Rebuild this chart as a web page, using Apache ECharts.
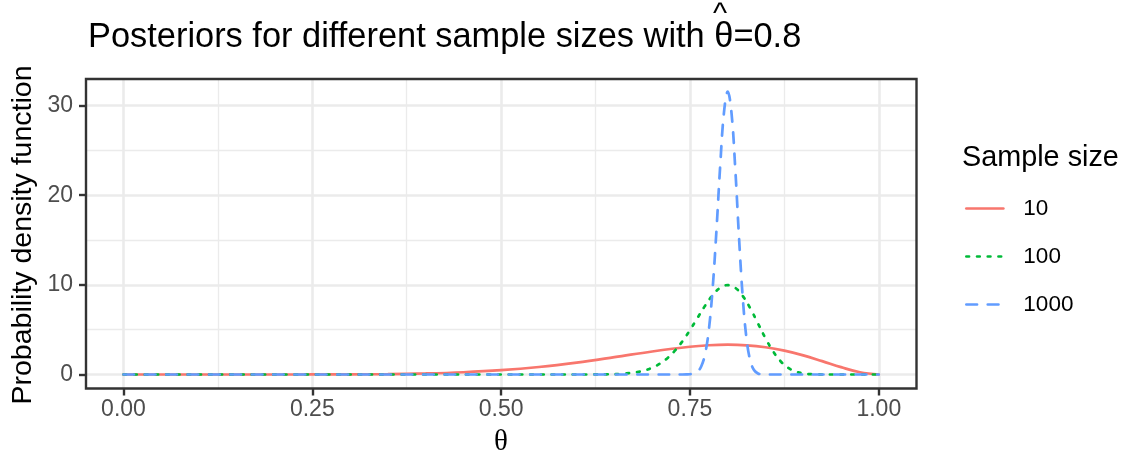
<!DOCTYPE html>
<html>
<head>
<meta charset="utf-8">
<script src="https://cdn.jsdelivr.net/npm/echarts@6/dist/echarts.min.js"></script>
<style>
  html, body { margin: 0; padding: 0; background: #fff; }
  #container { width: 1123px; height: 454px; }
</style>
</head>
<body>
<div id="container"></div>
<script>
// tick labels
var xTicks = [0, 0.25, 0.5, 0.75, 1];
var yTicks = [0, 10, 20, 30];
var sampleSizes = ['10', '100', '1000'];

// posterior densities
var theta10 = [0, 0.05, 0.1, 0.15, 0.2, 0.25, 0.3, 0.35, 0.4, 0.45, 0.5, 0.55, 0.6, 0.65, 0.7, 0.75, 0.775, 0.8, 0.825, 0.85, 0.875, 0.9, 0.925, 0.95, 0.975, 1];
var dens10 = [0, 0, 0, 0, 0.001, 0.004, 0.016, 0.047, 0.117, 0.252, 0.483, 0.839, 1.33, 1.932, 2.568, 3.097, 3.26, 3.322, 3.254, 3.035, 2.657, 2.131, 1.49, 0.821, 0.253, 0];

var theta100 = [0, 0.55, 0.6, 0.62, 0.64, 0.66, 0.68, 0.69, 0.7, 0.71, 0.72, 0.73, 0.74, 0.75, 0.76, 0.77, 0.78, 0.79, 0.8, 0.81, 0.82, 0.83, 0.84, 0.85, 0.86, 0.87, 0.88, 0.89, 0.9, 0.91, 0.92, 0.93, 0.95, 1];
var dens100 = [0, 0, 0.001, 0.005, 0.023, 0.084, 0.272, 0.464, 0.761, 1.2, 1.822, 2.655, 3.705, 4.95, 6.313, 7.67, 8.85, 9.67, 9.97, 9.66, 8.74, 7.35, 5.7, 4.04, 2.59, 1.48, 0.747, 0.323, 0.118, 0.035, 0.008, 0.001, 0, 0];

var theta1000 = [0, 0.7, 0.74, 0.745, 0.75, 0.755, 0.76, 0.765, 0.77, 0.775, 0.78, 0.785, 0.79, 0.795, 0.8, 0.805, 0.81, 0.815, 0.82, 0.825, 0.83, 0.835, 0.84, 0.845, 0.85, 0.86, 1];
var dens1000 = [0, 0, 0.002, 0.007, 0.029, 0.103, 0.327, 0.92, 2.28, 5.0, 9.58, 16.0, 23.25, 29.2, 31.54, 29.14, 22.9, 15.18, 8.44, 3.91, 1.49, 0.465, 0.117, 0.024, 0.004, 0, 0];

function pairs(xs, ys) {
    return xs.map(function (x, i) { return [x, ys[i]]; });
}

var FONT = '"Liberation Sans", Arial, sans-serif';
var GRID_COL = '#EBEBEB';
var DARK = '#333333';

var chart = echarts.init(document.getElementById('container'), null, {renderer: 'canvas'});

chart.setOption({
    animation: false,
    backgroundColor: '#ffffff',
    grid: [
        // horizontal grid lines + y ticks (spans the whole panel width)
        {left: 86, right: 206.5, top: 105.5, bottom: 79.5},
        // vertical grid lines + x ticks (spans the whole panel height)
        {left: 123.5, right: 244.2, top: 79, bottom: 65.5},
        // data area, 0..1 by 0..30
        {left: 123.5, right: 244.2, top: 105.5, bottom: 79.5}
    ],
    xAxis: [
        {gridIndex: 0, type: 'value', min: 0, max: 1, show: false},
        {
            gridIndex: 1, type: 'value', min: xTicks[0], max: xTicks[xTicks.length - 1], interval: 0.25,
            axisLine: {show: false},
            axisTick: {show: true, length: 7, lineStyle: {color: DARK, width: 2.4}},
            axisLabel: {
                margin: 10, color: '#4D4D4D', fontSize: 23, fontFamily: FONT,
                formatter: function (v) { return v.toFixed(2); }
            },
            splitLine: {show: true, lineStyle: {color: GRID_COL, width: 2.6}},
            minorTick: {show: false, splitNumber: 2},
            minorSplitLine: {show: true, lineStyle: {color: GRID_COL, width: 1.3}}
        },
        {gridIndex: 2, type: 'value', min: 0, max: 1, show: false}
    ],
    yAxis: [
        {
            gridIndex: 0, type: 'value', min: yTicks[0], max: yTicks[yTicks.length - 1], interval: 10,
            axisLine: {show: false},
            axisTick: {show: true, length: 7, lineStyle: {color: DARK, width: 2.4}},
            axisLabel: {margin: 13, color: '#4D4D4D', fontSize: 23, fontFamily: FONT},
            splitLine: {show: true, lineStyle: {color: GRID_COL, width: 2.6}},
            minorTick: {show: false, splitNumber: 2},
            minorSplitLine: {show: true, lineStyle: {color: GRID_COL, width: 1.3}}
        },
        {gridIndex: 1, type: 'value', min: 0, max: 1, show: false},
        {gridIndex: 2, type: 'value', min: 0, max: 30, show: false}
    ],
    legend: {
        orient: 'vertical',
        left: 965,
        top: 197,
        padding: 0,
        itemWidth: 37,
        itemHeight: 22,
        itemGap: 25,
        data: sampleSizes,
        itemStyle: {opacity: 0},
        lineStyle: {width: 2.7},
        textStyle: {fontSize: 22.5, color: '#000', fontFamily: FONT, padding: [0, 0, 0, 15]}
    },
    series: [
        {
            name: sampleSizes[0], type: 'line', xAxisIndex: 2, yAxisIndex: 2,
            data: pairs(theta10, dens10), smooth: 0.4, symbol: 'none', clip: false,
            lineStyle: {color: '#F8766D', width: 2.7, type: 'solid', cap: 'round'},
            itemStyle: {color: '#F8766D'}
        },
        {
            name: sampleSizes[1], type: 'line', xAxisIndex: 2, yAxisIndex: 2,
            data: pairs(theta100, dens100), smooth: 0.4, symbol: 'none', clip: false,
            lineStyle: {color: '#00BA38', width: 2.7, type: [2.7, 8], cap: 'round'},
            itemStyle: {color: '#00BA38'}
        },
        {
            name: sampleSizes[2], type: 'line', xAxisIndex: 2, yAxisIndex: 2,
            data: pairs(theta1000, dens1000), smooth: 0.4, symbol: 'none', clip: false,
            lineStyle: {color: '#619CFF', width: 2.7, type: [10.7, 10.7], cap: 'round'},
            itemStyle: {color: '#619CFF'}
        }
    ],
    graphic: [
        {
            type: 'rect', z: 100, silent: true,
            shape: {x: 86, y: 79, width: 830.5, height: 309.5},
            style: {fill: null, stroke: DARK, lineWidth: 2.4}
        },
        {
            type: 'text', x: 88, y: 38,
            style: {text: 'Posteriors for different sample sizes with θ=0.8', font: '34.4px ' + FONT, fill: '#000', align: 'left', verticalAlign: 'middle'}
        },
        {
            type: 'text', x: 720, y: 15,
            style: {text: '^', font: '30px ' + FONT, fill: '#000', align: 'center', verticalAlign: 'middle'}
        },
        {
            type: 'text', x: 23, y: 235, rotation: Math.PI / 2,
            style: {text: 'Probability density function', font: '28.5px ' + FONT, fill: '#000', align: 'center', verticalAlign: 'middle'}
        },
        {
            type: 'text', x: 501, y: 442,
            style: {text: 'θ', font: '29px "Liberation Serif", "DejaVu Serif", serif', fill: '#000', align: 'center', verticalAlign: 'middle'}
        },
        {
            type: 'text', x: 962, y: 158,
            style: {text: 'Sample size', font: '28.8px ' + FONT, fill: '#000', align: 'left', verticalAlign: 'middle'}
        }
    ]
});
</script>
</body>
</html>
